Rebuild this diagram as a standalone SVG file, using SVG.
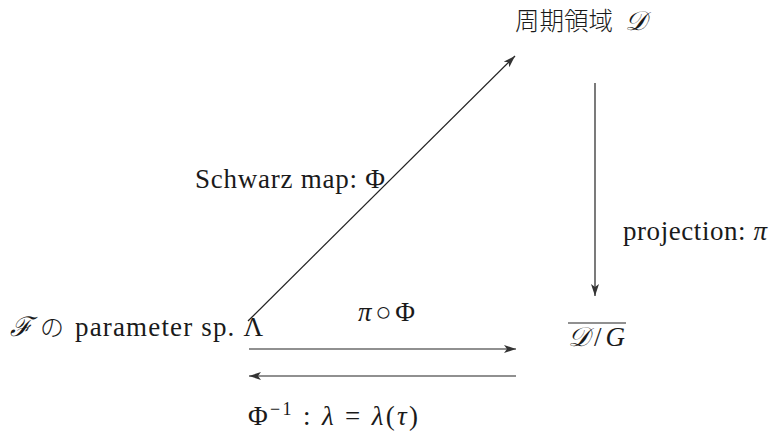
<svg xmlns="http://www.w3.org/2000/svg" width="771" height="436" viewBox="0 0 771 436">
<style>
text{font-family:"Liberation Serif","DejaVu Serif","Noto Sans CJK JP",serif;font-size:27px;fill:#1a1a1a}
.cjk{font-family:"Noto Sans CJK JP",sans-serif;font-weight:300}
.m{font-style:italic}
.ln{stroke:#222;stroke-width:1.2;fill:none}
</style>
<defs>
<marker id="ah" viewBox="0 0 12 8" refX="12" refY="4" markerWidth="12" markerHeight="8" markerUnits="userSpaceOnUse" orient="auto">
<path d="M0,0 L12,4 L0,8 L3,4 Z" fill="#333"/>
</marker>
</defs>
<rect width="771" height="436" fill="#fff"/>
<g id="connectors">
<line class="ln" x1="248" y1="321" x2="515" y2="56" marker-end="url(#ah)"/>
<line class="ln" x1="595" y1="83" x2="595" y2="296" marker-end="url(#ah)"/>
<line class="ln" x1="249" y1="349" x2="516" y2="349" marker-end="url(#ah)"/>
<line class="ln" x1="516" y1="376" x2="249" y2="376" marker-end="url(#ah)"/>
</g>
<g id="node-period">
<text y="30"><tspan class="cjk" x="515" font-size="24.5">周期領域</tspan><tspan class="m" x="625">𝒟</tspan></text>
</g>
<g id="node-param">
<text y="336"><tspan class="m" x="10">ℱ</tspan><tspan class="cjk" x="40" font-size="24">の</tspan><tspan x="75" textLength="188" lengthAdjust="spacing">parameter sp. Λ</tspan></text>
</g>
<g id="node-quotient">
<line x1="568" y1="323" x2="626" y2="323" stroke="#222" stroke-width="1.2"/>
<text x="568" y="346" textLength="57" lengthAdjust="spacing"><tspan class="m">𝒟</tspan>/<tspan class="m">G</tspan></text>
</g>
<g id="labels">
<text x="195" y="188" textLength="190" lengthAdjust="spacing">Schwarz map: Φ</text>
<text x="623" y="240" textLength="144" lengthAdjust="spacing">projection: <tspan class="m">π</tspan></text>
<text x="358" y="321" textLength="57" lengthAdjust="spacing"><tspan class="m">π</tspan> ○ Φ</text>
<text x="248" y="425" textLength="170" lengthAdjust="spacing">Φ<tspan dy="-10" font-size="18">−1</tspan><tspan dy="10"> : </tspan><tspan class="m">λ</tspan> = <tspan class="m">λ</tspan>(<tspan class="m">τ</tspan>)</text>
</g>
</svg>
